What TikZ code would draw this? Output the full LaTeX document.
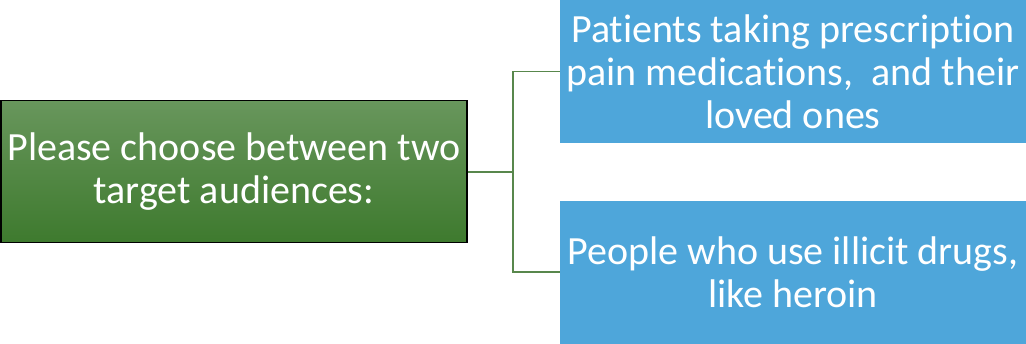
\documentclass[tikz,border=0pt]{standalone}
\usepackage{fontspec}
\setmainfont[Ligatures=NoCommon]{Carlito}
\definecolor{gtop}{RGB}{104,150,92}
\definecolor{gbot}{RGB}{62,122,46}
\definecolor{bluebox}{RGB}{78,166,218}
\definecolor{conn}{RGB}{88,135,76}
\begin{document}
\begin{tikzpicture}[x=1pt,y=-1pt,
  txt/.style={font=\fontsize{40}{43}\selectfont, text=white, align=center, inner sep=0pt},
  rootbox/.style={draw=black, line width=1.5pt, top color=gtop, bottom color=gbot, minimum width=466pt, minimum height=142pt, txt},
  leafbox/.style={fill=bluebox, minimum width=466pt, minimum height=143pt, txt},
  link/.style={draw=conn, line width=1.3pt}]
\useasboundingbox (0,0) rectangle (1026,343);
\node[rootbox] (root) at (234,171.5) {Please choose between two\\target audiences:};
\node[leafbox] (a) at (793,71.5) {Patients taking prescription\\pain medications,\ \ and their\\loved ones};
\node[leafbox] (b) at (793,272) {People who use illicit drugs,\\like heroin};
\coordinate (j) at (513,172);
\draw[link] (root.east |- j) -- (j);
\draw[link] (j) |- (a.west);
\draw[link] (j) |- (b.west);
\end{tikzpicture}
\end{document}
